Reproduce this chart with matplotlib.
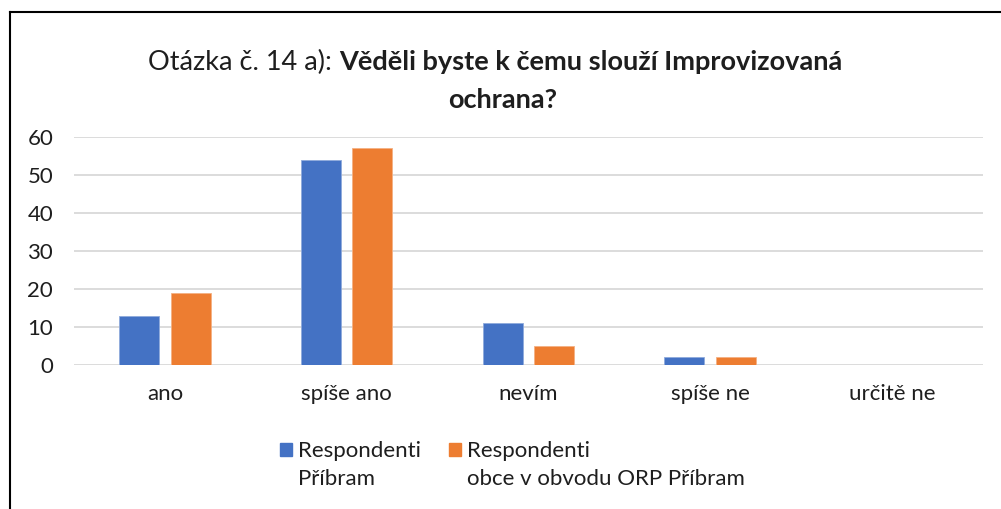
import matplotlib.pyplot as plt
from matplotlib.patches import Rectangle
from matplotlib.lines import Line2D
import numpy as np

categories = ['ano', 'spíše ano', 'nevím', 'spíše ne', 'určitě ne']
pribram = [13, 54, 11, 2, 0]
orp = [19, 57, 5, 2, 0]
series_names = ['Respondenti\nPříbram', 'Respondenti\nobce v obvodu ORP Příbram']
colors = ['#4472C4', '#ED7D31']
yticks = [0, 10, 20, 30, 40, 50, 60]

plt.rcParams['font.family'] = ['Lato', 'DejaVu Sans']
text_color = '#1e1e1e'

fig = plt.figure(figsize=(10.01, 5.09), dpi=100)
ax = fig.add_axes([0.0739, 0.283, 0.908, 0.448])

x = np.arange(len(categories))
w = 0.22
ax.bar(x - 0.142, pribram, w, color=colors[0], edgecolor='#8faadc', linewidth=0.6, zorder=3)
ax.bar(x + 0.142, orp, w, color=colors[1], edgecolor='#f4b183', linewidth=0.6, zorder=3)

ax.set_xlim(-0.5, len(categories) - 0.5)
ax.set_ylim(0, 60)
ax.set_yticks(yticks)
ax.set_xticks(x)
ax.set_xticklabels(categories)
ax.grid(axis='y', color='#D9D9D9', linewidth=1.3, zorder=0)
for s in ax.spines.values():
    s.set_visible(False)
ax.tick_params(axis='both', length=0, labelsize=16, colors=text_color)
ax.tick_params(axis='x', pad=14)
ax.tick_params(axis='y', pad=15)

# title with normal + bold parts
r = fig.canvas.get_renderer()
t1 = fig.text(0, 0.878, 'Otázka č. 14 a): ', fontsize=19.5, color=text_color, va='center')
t2 = fig.text(0, 0.878, 'Věděli byste k čemu slouží Improvizovaná', fontsize=19.5,
              fontweight='bold', color=text_color, va='center')
w1 = t1.get_window_extent(r).width
w2 = t2.get_window_extent(r).width
x0 = (495 - (w1 + w2) / 2) / 1001
t1.set_x(x0)
t2.set_x(x0 + w1 / 1001)
fig.text(503 / 1001, 0.804, 'ochrana?', fontsize=19.5, fontweight='bold', color=text_color,
         ha='center', va='center')

# legend
leg_x = [280, 449]
for name, c, lx in zip(series_names, colors, leg_x):
    fig.add_artist(Rectangle((lx / 1001, 1 - 456 / 509), 12 / 1001, 13 / 509,
                             transform=fig.transFigure, color=c))
    fig.text((lx + 18) / 1001, 1 - 441 / 509, name, fontsize=16, color=text_color,
             va='top', linespacing=1.5)

# chart frame (left and top edges visible)
fig.add_artist(Line2D([10 / 1001, 10 / 1001], [0, 1 - 12 / 509], transform=fig.transFigure,
                      color='black', linewidth=1.5))
fig.add_artist(Line2D([10 / 1001, 1], [1 - 12 / 509, 1 - 12 / 509], transform=fig.transFigure,
                      color='black', linewidth=1.5))

fig.savefig('out.png', dpi=100)
